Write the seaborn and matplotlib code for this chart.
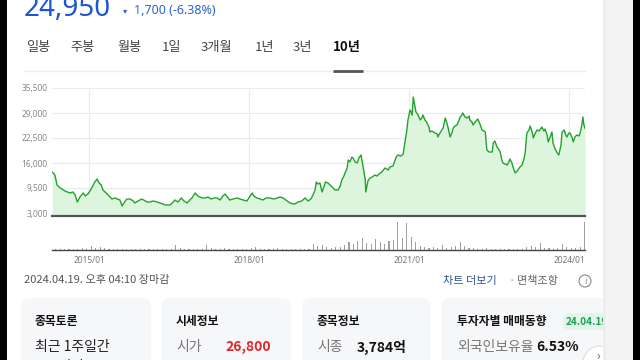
import numpy as np
import pandas as pd
import matplotlib
matplotlib.use("Agg")
import matplotlib.pyplot as plt
import seaborn as sns
from matplotlib.patches import FancyBboxPatch, Rectangle, Circle

sns.set_theme(style="white")
plt.rcParams['font.family'] = ['Noto Sans CJK KR', 'DejaVu Sans']

# ---------------- data ----------------
price_years = [
    2014.31, 2014.36, 2014.40, 2014.46, 2014.49, 2014.55, 2014.64, 2014.70, 2014.74, 2014.78,
    2014.83, 2014.89, 2014.93, 2014.98, 2015.04, 2015.08, 2015.11, 2015.15, 2015.19, 2015.23,
    2015.26, 2015.32, 2015.36, 2015.43, 2015.49, 2015.53, 2015.58, 2015.62, 2015.68, 2015.71,
    2015.77, 2015.83, 2015.86, 2015.92, 2015.99, 2016.09, 2016.14, 2016.20, 2016.28, 2016.33,
    2016.39, 2016.43, 2016.48, 2016.52, 2016.58, 2016.61, 2016.67, 2016.73, 2016.78, 2016.84,
    2016.89, 2016.93, 2016.99, 2017.04, 2017.08, 2017.12, 2017.18, 2017.23, 2017.29, 2017.34,
    2017.40, 2017.46, 2017.51, 2017.55, 2017.61, 2017.64, 2017.70, 2017.78, 2017.83, 2017.89,
    2017.96, 2018.02, 2018.06, 2018.09, 2018.15, 2018.21, 2018.26, 2018.32, 2018.39, 2018.47,
    2018.53, 2018.58, 2018.64, 2018.69, 2018.77, 2018.83, 2018.86, 2018.92, 2018.99, 2019.05,
    2019.11, 2019.16, 2019.20, 2019.24, 2019.26, 2019.29, 2019.33, 2019.37, 2019.41, 2019.43,
    2019.48, 2019.52, 2019.58, 2019.61, 2019.67, 2019.71, 2019.74, 2019.78, 2019.80, 2019.84,
    2019.86, 2019.89, 2019.93, 2019.95, 2019.99, 2020.03, 2020.06, 2020.10, 2020.14, 2020.18,
    2020.19, 2020.23, 2020.27, 2020.31, 2020.36, 2020.40, 2020.46, 2020.49, 2020.55, 2020.61,
    2020.64, 2020.70, 2020.76, 2020.79, 2020.85, 2020.89, 2020.93, 2020.96, 2020.98, 2021.02,
    2021.04, 2021.06, 2021.08, 2021.09, 2021.13, 2021.17, 2021.21, 2021.24, 2021.26, 2021.30,
    2021.34, 2021.38, 2021.39, 2021.43, 2021.49, 2021.53, 2021.54, 2021.58, 2021.64, 2021.68,
    2021.71, 2021.73, 2021.77, 2021.81, 2021.83, 2021.86, 2021.90, 2021.94, 2021.96, 2021.99,
    2022.01, 2022.05, 2022.09, 2022.13, 2022.14, 2022.18, 2022.20, 2022.24, 2022.29, 2022.33,
    2022.37, 2022.41, 2022.43, 2022.46, 2022.50, 2022.56, 2022.58, 2022.61, 2022.65, 2022.69,
    2022.71, 2022.74, 2022.76, 2022.80, 2022.84, 2022.88, 2022.89, 2022.93, 2022.95, 2022.99,
    2023.03, 2023.04, 2023.08, 2023.12, 2023.16, 2023.18, 2023.19, 2023.21, 2023.25, 2023.27,
    2023.31, 2023.33, 2023.36, 2023.40, 2023.44, 2023.48, 2023.49, 2023.53, 2023.55, 2023.59,
    2023.61, 2023.64, 2023.68, 2023.70, 2023.74, 2023.78, 2023.81, 2023.85, 2023.87, 2023.91,
    2023.94, 2023.96, 2024.00, 2024.02, 2024.06, 2024.08, 2024.11, 2024.15, 2024.19, 2024.21,
    2024.24, 2024.26, 2024.28, 2024.30,
]
price_values = [
    13660, 12880, 10280, 9500, 9240, 8720, 8200, 8460, 7680, 5860,
    7160, 8200, 7420, 7940, 9240, 10280, 11060, 11840, 10800, 10280,
    9000, 8200, 7680, 6640, 6900, 6640, 6380, 4820, 6120, 6640,
    6640, 6120, 5600, 6120, 6640, 5860, 5860, 6120, 5860, 5600,
    5340, 5080, 5080, 5080, 5860, 6380, 5860, 6900, 6120, 5600,
    6380, 6900, 8200, 7420, 7160, 6900, 6900, 7160, 6640, 6900,
    6900, 6380, 7420, 7940, 6900, 6380, 6640, 6900, 6640, 6380,
    6120, 7420, 8200, 7420, 6900, 6640, 6380, 6900, 6900, 6640,
    6900, 7160, 6900, 6380, 5600, 5340, 5340, 5860, 6120, 6900,
    6120, 6640, 7680, 9000, 11060, 10540, 10800, 8460, 10020, 11060,
    10800, 10280, 9500, 8980, 8980, 10020, 11580, 12620, 13400, 14700,
    16780, 16260, 17560, 17300, 16260, 16000, 17300, 18080, 14960, 11580,
    8460, 11320, 12100, 12360, 12880, 12620, 13400, 13660, 14700, 14180,
    14960, 15220, 17560, 18080, 17820, 18340, 21980, 24580, 27180, 29780,
    29260, 28480, 33160, 32380, 29260, 28480, 27180, 27700, 28480, 27180,
    26400, 25100, 24060, 24320, 23800, 23540, 22760, 23800, 25100, 27700,
    26400, 25360, 22760, 24060, 25100, 25620, 25880, 27180, 27960, 28480,
    29000, 27960, 27700, 28220, 27180, 26660, 25880, 26660, 27440, 26140,
    24580, 24320, 24060, 19380, 18860, 18860, 21200, 21720, 20160, 19380,
    18860, 16780, 16000, 15740, 15480, 16520, 17040, 16000, 14960, 13400,
    13920, 14180, 14960, 15480, 17300, 18860, 20680, 23800, 24580, 25620,
    24060, 22500, 23540, 24580, 24320, 25100, 25360, 24320, 24840, 23280,
    21460, 22500, 24060, 21200, 19640, 18600, 18080, 20680, 24060, 24580,
    23280, 22760, 23800, 23800, 22500, 21460, 22760, 23280, 23020, 23800,
    25880, 27960, 25880, 24950,
]
vol_months = pd.date_range("2014-05-01", "2024-04-01", freq="MS")
vol_values = [
    15, 10, 12, 10, 15, 12, 20, 15,
    40, 25, 30, 20, 15, 12, 10, 15, 10, 10, 8, 10,
    10, 8, 10, 8, 10, 12, 8, 50, 20, 10, 12, 15,
    10, 12, 50, 25, 15, 10, 20, 15, 10, 10, 12, 15,
    20, 30, 15, 12, 10, 15, 20, 10, 12, 10, 12, 10,
    12, 15, 60, 40, 50, 30, 25, 35, 30, 50, 80, 60,
    90, 120, 70, 60, 110, 80, 60, 90, 100, 280, 120, 270,
    130, 80, 40, 30, 25, 30, 20, 50, 25, 30, 40, 80,
    40, 20, 25, 15, 12, 20, 15, 12, 15, 10, 12, 10,
    10, 15, 30, 40, 30, 70, 25, 20, 15, 20, 60, 30,
    25, 20, 30, 280,
]
y_ticks = [3000, 9500, 16000, 22500, 29000, 35500]
x_tick_years = [2015, 2018, 2021, 2024]
x_tick_labels = ["2015/01", "2018/01", "2021/01", "2024/01"]
tabs = ["일봉", "주봉", "월봉", "1일", "3개월", "1년", "3년", "10년"]

# ---------------- figure ----------------
W, H = 640, 360
fig = plt.figure(figsize=(6.4, 3.6), dpi=100)
fig.patch.set_facecolor("white")


def rect(x0, y0, x1, y1):
    return [x0 / W, 1 - y1 / H, (x1 - x0) / W, (y1 - y0) / H]


bg = fig.add_axes([0, 0, 1, 1], zorder=0)
bg.set_xlim(0, W)
bg.set_ylim(H, 0)
bg.axis("off")

# header
bg.text(24, 16, "24,950", fontsize=20, fontweight="bold", color="#1b55d3",
        va="baseline", ha="left", family=["Noto Sans", "DejaVu Sans"])
bg.text(123, 11, "▾", fontsize=6, color="#2b63d0", va="center", ha="left",
        family=["DejaVu Sans"])
bg.text(134, 11, "1,700 (-6.38%)", fontsize=9, color="#2b63d0", va="center",
        ha="left", family=["Noto Sans", "DejaVu Sans"])

tab_x = [26, 70, 117, 162, 201, 255, 293, 333]
for t, x in zip(tabs, tab_x):
    if t == "10년":
        bg.text(x, 47, t, fontsize=9.5, color="#111111", fontweight="bold",
                va="center", ha="left")
    else:
        bg.text(x, 47, t, fontsize=9.5, color="#444444", va="center", ha="left")
bg.plot([24, 585], [71, 71], color="#ececec", lw=1)
bg.plot([333, 363], [70.5, 70.5], color="#555555", lw=2, solid_capstyle="butt")

# footer line under chart
bg.text(24, 280, "2024.04.19. 오후 04:10 장마감", fontsize=8, color="#555555",
        va="center", ha="left")
bg.text(443, 281, "차트 더보기", fontsize=8, color="#2e5597", va="center", ha="left")
bg.text(509, 281, "·", fontsize=8, color="#999999", va="center", ha="left")
bg.text(517, 281, "면책조항", fontsize=8, color="#666666", va="center", ha="left")
bg.add_patch(Circle((585, 281), 6, facecolor="none", edgecolor="#888888", lw=0.8))
bg.text(585, 281.5, "i", fontsize=6, color="#888888", va="center", ha="center",
        family=["DejaVu Sans"])

# cards
cards = [(21, 151), (162, 291), (302, 430), (442, 640)]
for x0, x1 in cards:
    bg.add_patch(FancyBboxPatch((x0, 298), x1 - x0, 80,
                                boxstyle="round,pad=0,rounding_size=9",
                                facecolor="#f6f7f9", edgecolor="none"))
bg.text(35, 322, "종목토론", fontsize=8.5, fontweight="bold", color="#111111", va="center")
bg.text(35, 347, "최근 1주일간", fontsize=10, color="#222222", va="center")
bg.text(35, 367, "000개의", fontsize=10, color="#222222", va="center")
bg.text(176, 322, "시세정보", fontsize=8.5, fontweight="bold", color="#111111", va="center")
bg.text(176, 347, "시가", fontsize=10, color="#777777", va="center")
bg.text(271, 347, "26,800", fontsize=10, fontweight="bold", color="#e0262c",
        va="center", ha="right")
bg.text(317, 322, "종목정보", fontsize=8.5, fontweight="bold", color="#111111", va="center")
bg.text(317, 347, "시종", fontsize=10, color="#777777", va="center")
bg.text(407, 347, "3,784억", fontsize=10, fontweight="bold", color="#111111",
        va="center", ha="right")
bg.text(457, 322, "투자자별 매매동향", fontsize=8.5, fontweight="bold", color="#111111",
        va="center")
bg.add_patch(FancyBboxPatch((563, 313), 50, 17, boxstyle="round,pad=0,rounding_size=7",
                            facecolor="#e2f5e8", edgecolor="none"))
bg.text(566, 322, "24.04.19", fontsize=7.2, fontweight="bold", color="#1f9d55", va="center")
bg.text(457, 347, "외국인보유율", fontsize=10, color="#777777", va="center")
bg.text(536, 347, "6.53%", fontsize=10, fontweight="bold", color="#111111", va="center")
bg.add_patch(Circle((600, 363), 17, facecolor="white", edgecolor="#dddddd", lw=0.8))
bg.text(598, 356, "›", fontsize=9, color="#666666", va="center", ha="center")

# borders
bg.add_patch(Rectangle((0, 0), 7, H, facecolor="black", edgecolor="none", zorder=5))
bg.add_patch(Rectangle((603, 0), 30, H, facecolor="#f3f3f3", edgecolor="none", zorder=5))
bg.plot([603.5, 603.5], [0, H], color="#e6e6e6", lw=0.8, zorder=6)
bg.add_patch(Rectangle((633, 0), 7, H, facecolor="black", edgecolor="none", zorder=5))

# ---------------- price chart ----------------
x_lo, x_hi = 2014.306, 2024.30
ax = fig.add_axes(rect(52, 88, 585, 216), zorder=2)
ax.patch.set_alpha(0)
df = pd.DataFrame({"year": price_years, "price": price_values})
ax.fill_between(df["year"], 2220, df["price"], color="#dcf5dc", lw=0)
sns.lineplot(data=df, x="year", y="price", ax=ax, color="#22a22e", lw=1.0)
ax.set_xlim(x_lo, x_hi)
ax.set_ylim(2220, 35500)
ax.set_yticks(y_ticks)
ax.set_yticklabels([f"{v:,}" for v in y_ticks])
ax.set_xticks(x_tick_years)
ax.set_xticklabels([])
ax.grid(True, color="#ebebeb", lw=0.8)
ax.tick_params(axis="y", length=0, pad=3, labelsize=6, labelcolor="#888888")
ax.tick_params(axis="x", length=0)
for lab in ax.get_yticklabels():
    lab.set_family(["Noto Sans", "DejaVu Sans"])
for s in ["top", "left", "right"]:
    ax.spines[s].set_visible(False)
ax.spines["bottom"].set_color("#555555")
ax.spines["bottom"].set_linewidth(1.6)
ax.set_xlabel("")
ax.set_ylabel("")

# ---------------- volume chart ----------------
axv = fig.add_axes(rect(52, 219, 585, 250), zorder=2)
axv.patch.set_alpha(0)
vol_x = [d.year + (d.month - 1) / 12 + 1 / 24 for d in vol_months]
axv.bar(vol_x, vol_values, width=0.022, color="#a0a0a0", lw=0)
axv.set_xlim(x_lo, x_hi)
axv.set_ylim(0, 310)
axv.set_yticks([])
axv.set_xticks(x_tick_years)
axv.set_xticklabels(x_tick_labels)
axv.tick_params(axis="x", length=3, width=1, color="#222222", pad=1.5,
                labelsize=6, labelcolor="#777777")
for lab in axv.get_xticklabels():
    lab.set_family(["Noto Sans", "DejaVu Sans"])
for s in ["top", "left", "right"]:
    axv.spines[s].set_visible(False)
axv.spines["bottom"].set_color("#444444")
axv.spines["bottom"].set_linewidth(1.0)

fig.savefig("out.png", dpi=100, facecolor="white")
